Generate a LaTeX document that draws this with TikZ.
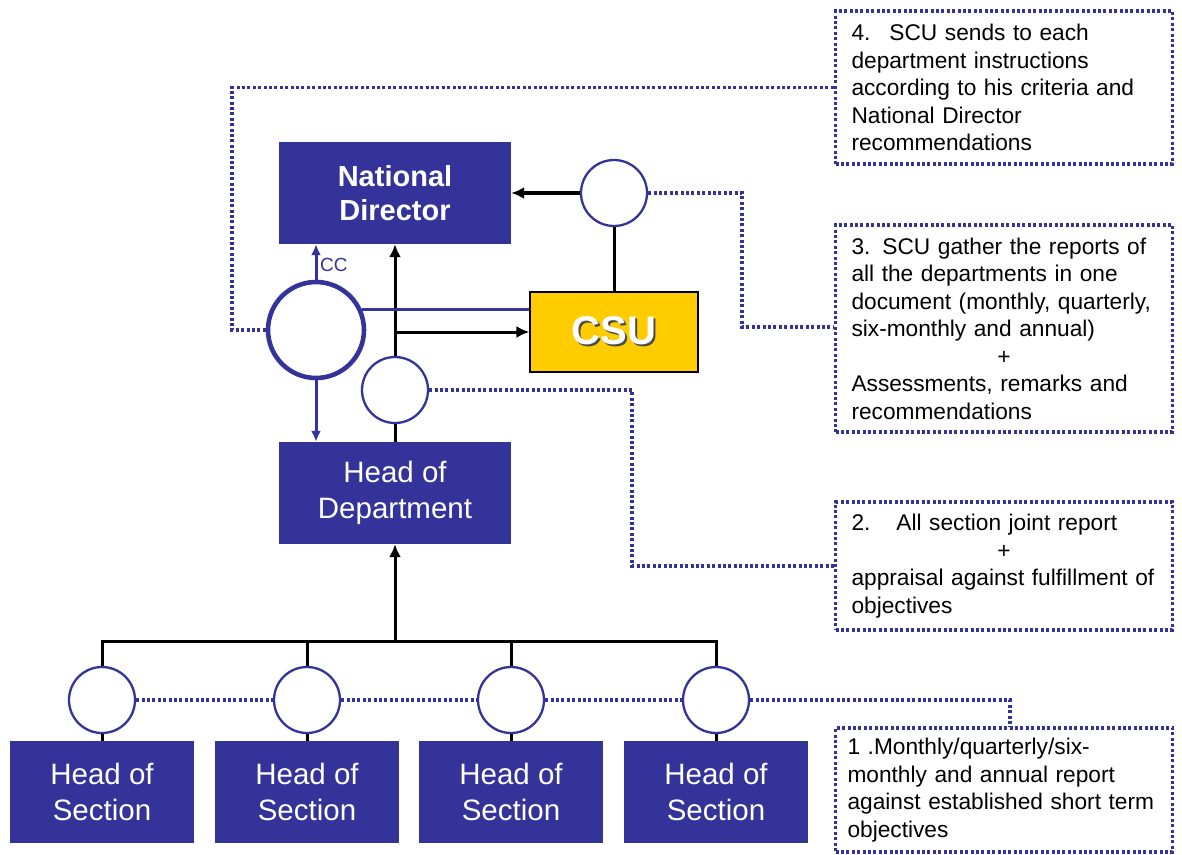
\documentclass[tikz,border=0pt]{standalone}
\usepackage{fontspec}
\setmainfont{Liberation Sans}
\usetikzlibrary{arrows.meta}
\definecolor{navy}{RGB}{51,51,153}
\definecolor{gold}{RGB}{255,204,0}

\begin{document}
\begin{tikzpicture}[x=1pt,y=-1pt,
  unitbox/.style={fill=navy, text=white, minimum width=232pt, minimum height=102pt,
    align=center, inner sep=0pt, font=\fontsize{29.5}{36}\selectfont},
  secbox/.style={unitbox, minimum width=184pt},
  ring/.style={circle, draw=navy, line width=2.3pt, fill=white, minimum size=66pt, inner sep=0pt},
  link/.style={line width=3pt, black},
  arr/.style={link, -{Latex[length=13pt,width=12pt]}},
  bluearr/.style={line width=3pt, navy, -{Latex[length=11pt,width=10pt]}},
  dotline/.style={navy, line width=3.2pt, dash pattern=on 3pt off 2.4pt},
  note/.style={draw=navy, line width=3.2pt, dash pattern=on 3pt off 2.4pt,
    minimum width=337pt, text width=305pt, inner xsep=16pt, inner ysep=0pt,
    align=left, font=\fontsize{22.7}{27.5}\selectfont},
]
\useasboundingbox (0,0) rectangle (1182,854);
\fill[white] (0,0) rectangle (1182,854);

% units
\node[unitbox, font=\fontsize{29}{34.5}\selectfont\bfseries] (nd) at (395,193) {National\\Director};
\node[unitbox] (hod) at (395,493) {Head of\\Department};
\node[draw=black, line width=1.2pt, fill=gold, minimum width=168pt, minimum height=80pt,
  inner sep=0pt, font=\fontsize{40}{48}\selectfont\bfseries] (csu) at (614,332)
  {\makebox[0pt][l]{\hspace{1.8pt}\raisebox{-1.8pt}{\color{black!70}CSU}}\color{white}CSU};

\foreach \i/\x in {1/102,2/307,3/511,4/716}{
  \node[secbox] (hs\i) at (\x,792) {Head of\\Section};
  \node[ring] (cs\i) at (\x,700) {};
}

% report points
\node[ring] (cnd) at (614,193) {};
\node[ring, minimum size=96pt, line width=4.6pt] (cbig) at (316,330) {};
\node[ring] (csm) at (395,390) {};

% notes
\node[note, minimum height=153pt] (n4) at (1004,87.5)
  {4.\hspace{19pt}SCU sends to each\\department instructions\\according to his criteria and\\National Director\\recommendations};
\node[note, minimum height=207pt] (n3) at (1004,328.5)
  {3.\hspace{12pt}SCU gather the reports of\\all the departments in one\\document (monthly, quarterly,\\six-monthly and annual)\\\hspace*{\fill}+\hspace*{\fill}\mbox{}\\Assessments, remarks and\\recommendations};
\node[note, minimum height=128pt] (n2) at (1004,566)
  {2.\hspace{26pt}All section joint report\\\hspace*{\fill}+\hspace*{\fill}\mbox{}\\appraisal against fulfillment of\\objectives};
\node[note, minimum height=124pt, inner xsep=12pt, text width=313pt] (n1) at (1004,790)
  {1 .Monthly/quarterly/six-\\monthly and annual report\\against established short term\\objectives};

% reporting lines
\coordinate (bus) at (395,641);
\draw[link] (cs1.north) -- (cs1.north |- bus) -- (cs4.north |- bus) -- (cs4.north);
\draw[link] (cs2.north) -- (cs2.north |- bus);
\draw[link] (cs3.north) -- (cs3.north |- bus);
\foreach \i in {1,2,3,4}{ \draw[link] (cs\i.south) -- (hs\i.north); }
\draw[arr] (bus) -- (hod.south);

\draw[link] (csm.south) -- (hod.north);
\draw[arr] (csm.north) -- (nd.south);
\draw[arr] (csm.north |- csu.west) -- (csu.west);
\draw[link] (cnd.south) -- (csu.north);
\draw[arr, line width=4pt] (cnd.west) -- (nd.east);

\draw[navy, line width=3pt] (cbig.24) -- (cbig.24 -| csu.west);
\draw[bluearr] (cbig.north) -- (cbig.north |- nd.south);
\draw[bluearr] (cbig.south) -- (cbig.south |- hod.north);
\node[text=navy, font=\fontsize{19}{21}\selectfont, anchor=west, inner sep=0pt] (cc) at (320,265) {CC};

% links to the notes
\coordinate (k4) at (232,330);
\draw[dotline] (cbig.west) -- (k4) |- (n4.west);
\coordinate (k3) at (742,327);
\draw[dotline] (cnd.east) -| (k3) -- (k3 -| n3.west);
\coordinate (k2) at (632,566);
\draw[dotline] (csm.east) -| (k2) -- (k2 -| n2.west);
\draw[dotline] (cs1.east) -- (cs2.west);
\draw[dotline] (cs2.east) -- (cs3.west);
\draw[dotline] (cs3.east) -- (cs4.west);
\coordinate (k1) at (1010,700);
\draw[dotline] (cs4.east) -- (k1) -- (k1 |- n1.north);
\end{tikzpicture}
\end{document}
